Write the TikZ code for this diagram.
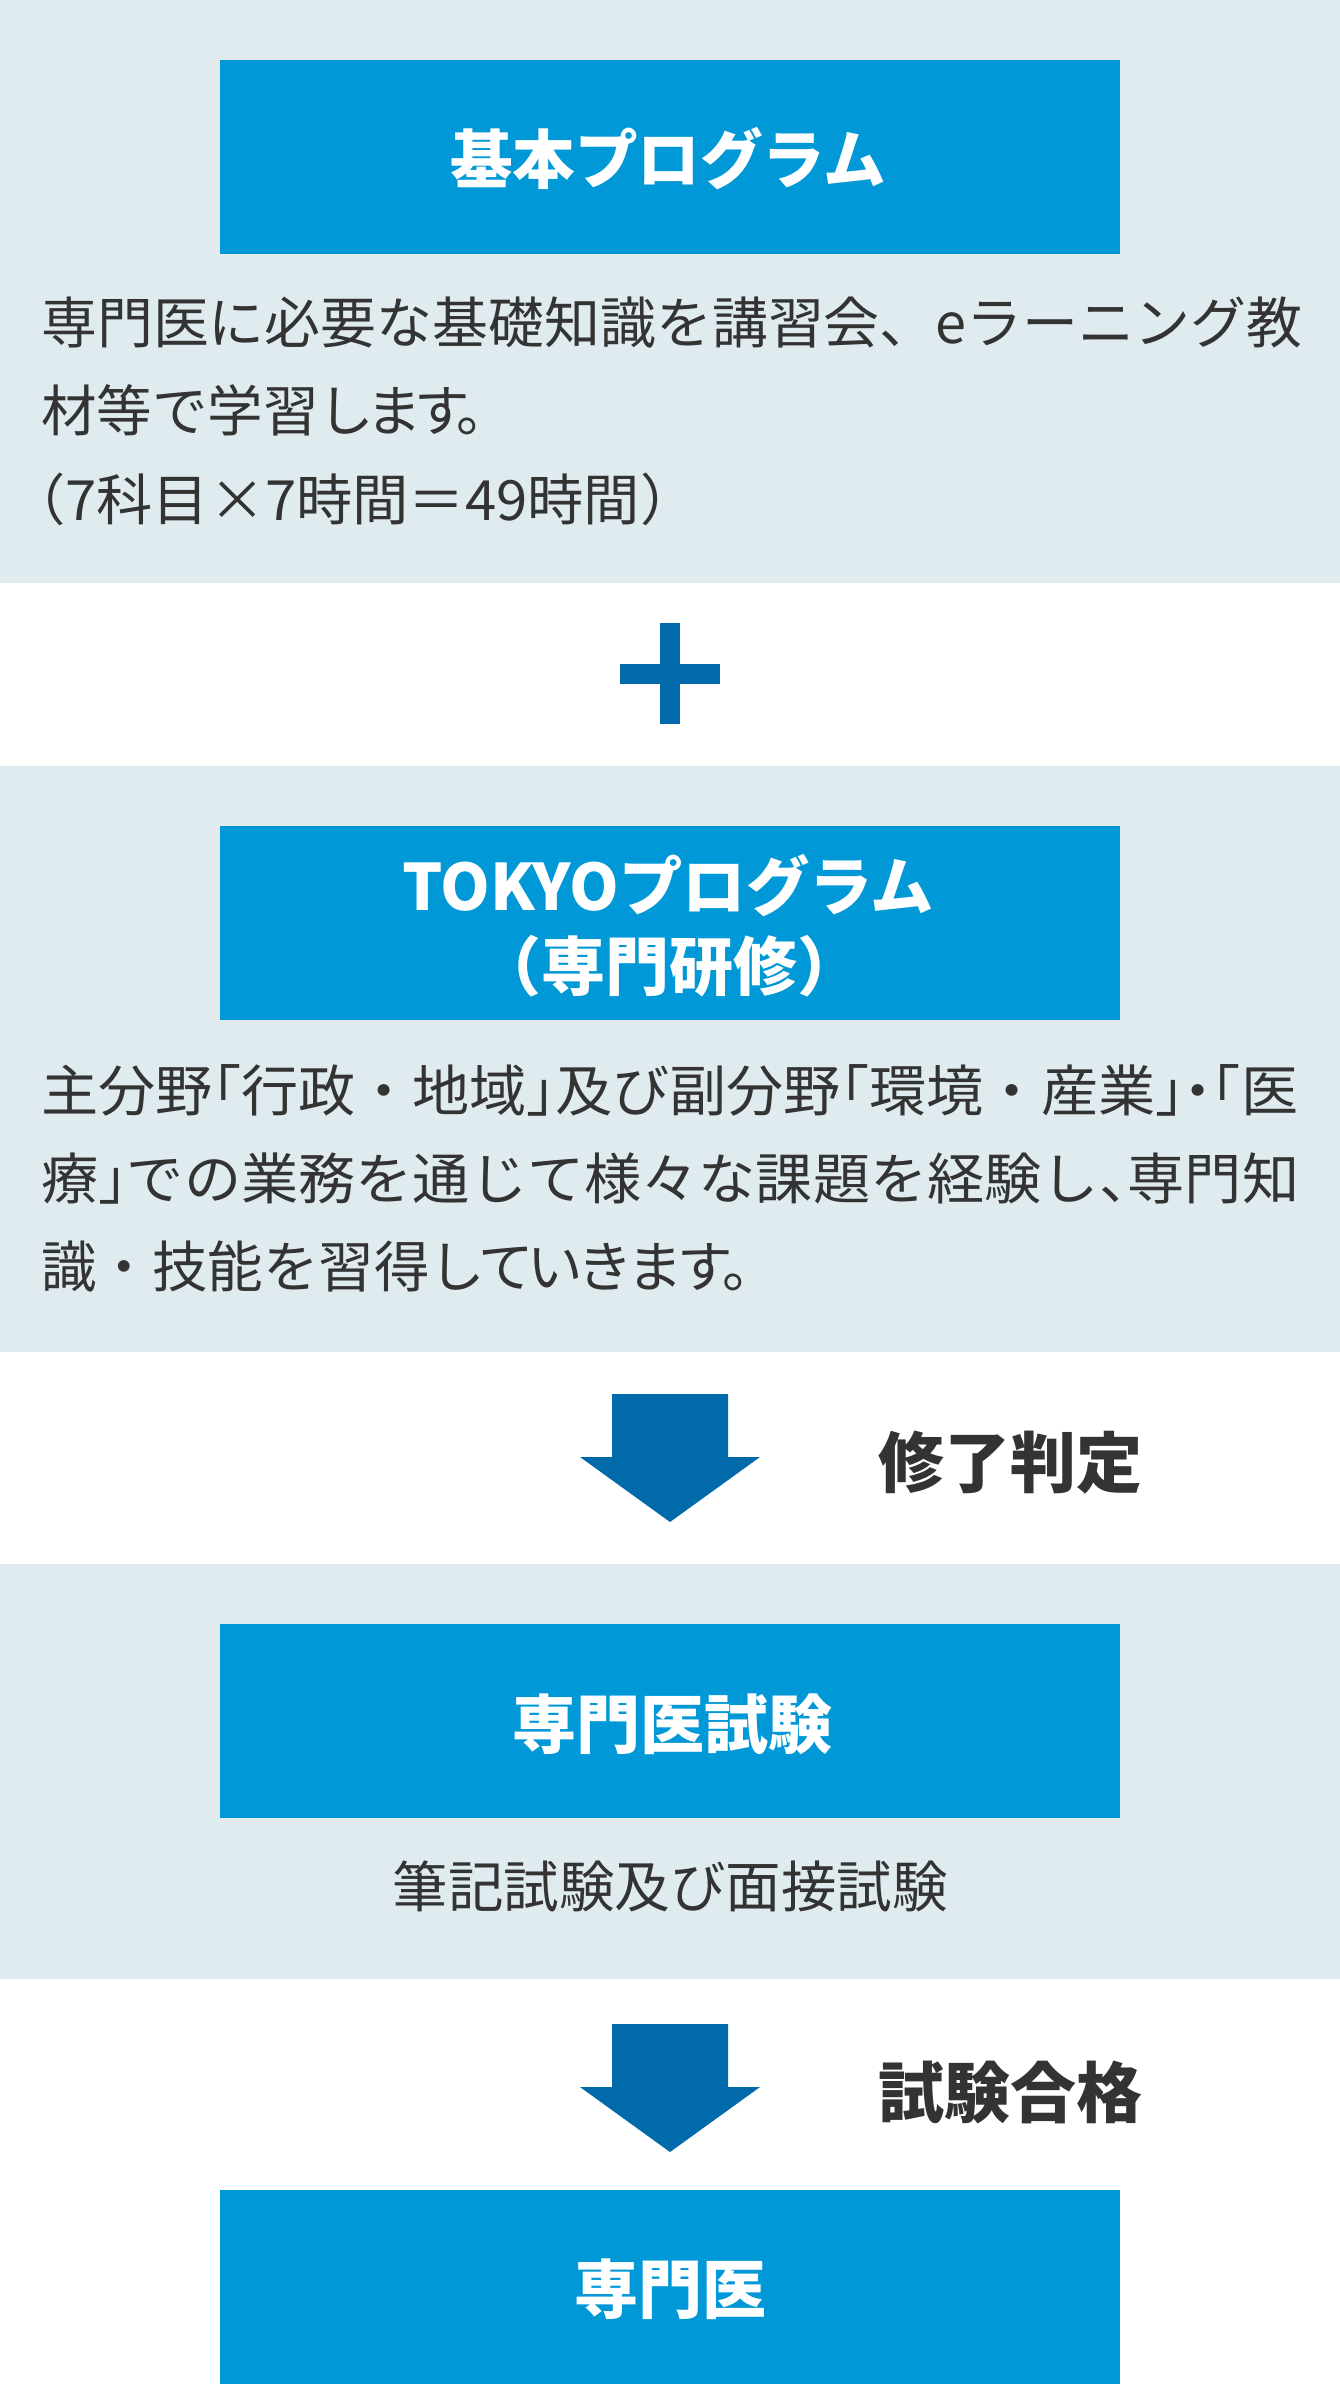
\documentclass[tikz,border=0pt]{standalone}
\usepackage{fontspec}
\usepackage{graphicx}
\setmainfont{Noto Sans CJK JP}
\definecolor{band}{HTML}{E0EBF0}
\definecolor{boxblue}{HTML}{0098D6}
\definecolor{darkblue}{HTML}{006AAA}
\definecolor{txt}{HTML}{333333}
\newsavebox\fitbox
\newcommand\fitto[2]{\sbox\fitbox{#2}\pgfmathsetmacro\fitr{#1/\the\wd\fitbox}\scalebox{\fitr}[1]{\usebox\fitbox}}
\newcommand\hw[1]{{\addfontfeature{RawFeature=+halt}#1}}
\newcommand\tight[2]{{\addfontfeature{LetterSpace=#1}#2}}
\tikzset{
  bluebox/.style={fill=boxblue, draw=none, minimum width=900pt, minimum height=194pt, inner sep=0pt},
  bandrect/.style={fill=band, draw=none},
  body/.style={font=\fontsize{55.5}{66}\selectfont, text=txt, inner sep=0pt, anchor=base west},
  titletext/.style={font=\bfseries\fontsize{64}{80}\selectfont, text=white, inner sep=0pt, anchor=base},
  labeltext/.style={font=\bfseries\fontsize{66}{80}\selectfont, text=txt, inner sep=0pt, anchor=base west},
  arrowshape/.style={fill=darkblue, draw=none}
}
\newcommand\downarrowat[1]{%
  \begin{scope}[shift={(0,#1)}]
    \fill[arrowshape] (612,0) -- (728,0) -- (728,63) -- (760,63) -- (670,128) -- (580,63) -- (612,63) -- cycle;
  \end{scope}}
\begin{document}
\begin{tikzpicture}[x=1pt,y=-1pt]
\useasboundingbox (0,0) rectangle (1340,2384);
\fill[white] (0,0) rectangle (1340,2384);
% bands
\fill[bandrect] (0,0) rectangle (1340,583);
\fill[bandrect] (0,766) rectangle (1340,1352);
\fill[bandrect] (0,1564) rectangle (1340,1979);
% boxes
\node[bluebox] (b1) at (670,157) {};
\node[bluebox] (b2) at (670,923) {};
\node[bluebox] (b3) at (670,1721) {};
\node[bluebox] (b4) at (670,2287) {};
% titles
\node[titletext] (t1) at (668,184) {\fitto{436}{基本プログラム}};
\node[titletext] (t2a) at (668,910) {\fitto{532}{TOKYOプログラム}};
\node[titletext] (t2b) at (669,990) {\hw{（}専門研修\hw{）}};
\node[titletext] (t3) at (672,1748) {専門医試験};
\node[titletext] (t4) at (670,2313) {専門医};
% paragraph 1
\node[body] (p1a) at (41,343) {\fitto{1261}{専門医に必要な基礎知識を講習会、eラーニング教}};
\node[body] (p1b) at (41,431) {材等で学習\tight{-14}{します。}};
\node[body] (p1c) at (37,520) {\fitto{631}{\hw{（}7科目×7時間＝49時間\hw{）}}};
% plus
\fill[darkblue] (620,664) rectangle (720,684);
\fill[darkblue] (660,623) rectangle (680,724);
% paragraph 2
\node[body] (p2a) at (41,1111) {\fitto{1257}{主分野\hw{「}行政・地域\hw{」}及び副分野\hw{「}環境・産業\hw{」・「}医}};
\node[body] (p2b) at (41,1199) {\fitto{1258}{療\hw{」}での業務を通じて様々な課題を経験し\hw{、}専門知}};
\node[body] (p2c) at (41,1287) {識・技能を習得\tight{-10}{していきます。}};
% arrow 1
\downarrowat{1394}
\node[labeltext] (l1) at (878,1487) {修了判定};
% exam
\node[body, anchor=base] (s3) at (670,1907) {筆記試験及び面接試験};
% arrow 2
\downarrowat{2024}
\node[labeltext] (l2) at (878,2117) {試験合格};
\end{tikzpicture}
\end{document}
